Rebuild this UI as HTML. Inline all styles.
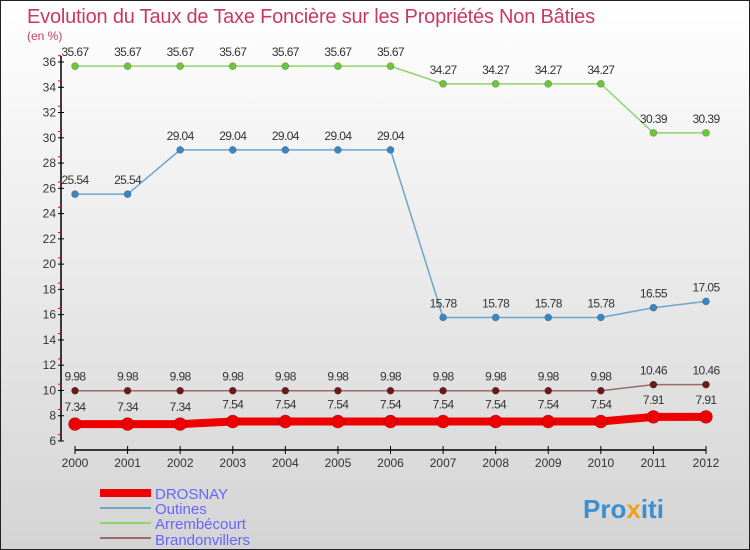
<!DOCTYPE html>
<html><head><meta charset="utf-8"><style>
body{margin:0}
svg{display:block;font-family:"Liberation Sans",sans-serif}
</style></head><body>
<svg width="750" height="550" viewBox="0 0 750 550">
<defs><linearGradient id="bg" x1="0" y1="0" x2="0" y2="1"><stop offset="0" stop-color="#ffffff"/><stop offset="1" stop-color="#d4d4d4"/></linearGradient></defs>
<rect x="0.5" y="0.5" width="749" height="549" fill="url(#bg)" stroke="#222"/>
<text x="27" y="23" font-size="20" fill="#c8386a" letter-spacing="-0.2">Evolution du Taux de Taxe Foncière sur les Propriétés Non Bâties</text>
<text x="27" y="40" font-size="12" fill="#c8386a">(en %)</text>
<g id="axes"></g>
<g id="series"></g>
<g>
<rect x="100" y="489" width="51" height="8" fill="#ee0000"/>
<text x="155" y="499" font-size="15" fill="#6666ff">DROSNAY</text>
<rect x="100" y="507" width="51" height="2" fill="#6fa5cc"/>
<text x="155" y="514" font-size="15" fill="#6666ff">Outines</text>
<rect x="100" y="522" width="51" height="2" fill="#8fd46a"/>
<text x="155" y="529" font-size="15" fill="#6666ff">Arrembécourt</text>
<rect x="100" y="537" width="51" height="2" fill="#9a6a6a"/>
<text x="155" y="545" font-size="15" fill="#6666ff">Brandonvillers</text>
</g>
<text x="583" y="518" font-size="26" font-weight="bold" fill="#3a8fd0">Pro<tspan fill="#f0a020">x</tspan>iti</text>
</svg>
<script>
const years=[2000,2001,2002,2003,2004,2005,2006,2007,2008,2009,2010,2011,2012];
const drosnay=[7.34,7.34,7.34,7.54,7.54,7.54,7.54,7.54,7.54,7.54,7.54,7.91,7.91];
const outines=[25.54,25.54,29.04,29.04,29.04,29.04,29.04,15.78,15.78,15.78,15.78,16.55,17.05];
const arrembecourt=[35.67,35.67,35.67,35.67,35.67,35.67,35.67,34.27,34.27,34.27,34.27,30.39,30.39];
const brandonvillers=[9.98,9.98,9.98,9.98,9.98,9.98,9.98,9.98,9.98,9.98,9.98,10.46,10.46];
const yTicks=[6,8,10,12,14,16,18,20,22,24,26,28,30,32,34,36];
const NS="http://www.w3.org/2000/svg";
const xS=i=>75+i*(706-75)/12;
const yS=v=>441-(v-6)*(441-62)/30;
function mk(t,a,p){const e=document.createElementNS(NS,t);for(const k in a)e.setAttribute(k,a[k]);p.appendChild(e);return e;}
const ax=document.getElementById('axes');
let l=mk('line',{x1:61,y1:56,x2:61,y2:441,stroke:'#000','stroke-width':1.5},ax);


yTicks.forEach(v=>{const y=yS(v);mk('line',{x1:58,y1:y,x2:64,y2:y,stroke:'#000'},ax);
mk('line',{x1:58,y1:y-6.3,x2:61,y2:y-6.3,stroke:'#e00'},ax);
const t=mk('text',{x:56,y:y+4,'font-size':12,'text-anchor':'end',fill:'#333'},ax);t.textContent=v;

});
l=mk('line',{x1:75,y1:450,x2:706,y2:450,stroke:'#000','stroke-width':1.5},ax);


years.forEach((yr,i)=>{const x=xS(i);mk('line',{x1:x,y1:446,x2:x,y2:454,stroke:'#000'},ax);
const t=mk('text',{x:x,y:467,'font-size':12,'text-anchor':'middle',fill:'#333'},ax);t.textContent=yr;

});
const sg=document.getElementById('series');
function draw(name,vals,color,dot,w,r,labOff){
const g=mk('g',{},sg);


mk('polyline',{points:vals.map((v,i)=>xS(i)+','+yS(v)).join(' '),fill:'none',stroke:color,'stroke-width':w},g);
vals.forEach((v,i)=>{const c=mk('circle',{cx:xS(i),cy:yS(v),r:r,fill:dot,stroke:'rgba(0,0,0,0.3)','stroke-width':0.6},g);


const t=mk('text',{x:xS(i),y:yS(v)-labOff,'font-size':12,'text-anchor':'middle',fill:'#333','letter-spacing':'-0.6'},g);t.textContent=v.toString();

});}
draw('brandonvillers',brandonvillers,'#9a6a6a','#6b1a1a',1.5,3.5,10);
draw('arrembecourt',arrembecourt,'#8fd46a','#6cc63a',1.5,3.5,10);
draw('outines',outines,'#6fa5cc','#3a86c2',1.5,3.5,10);
draw('drosnay',drosnay,'#ee0000','#ee0000',8,6.5,13);
</script>
</body></html>
